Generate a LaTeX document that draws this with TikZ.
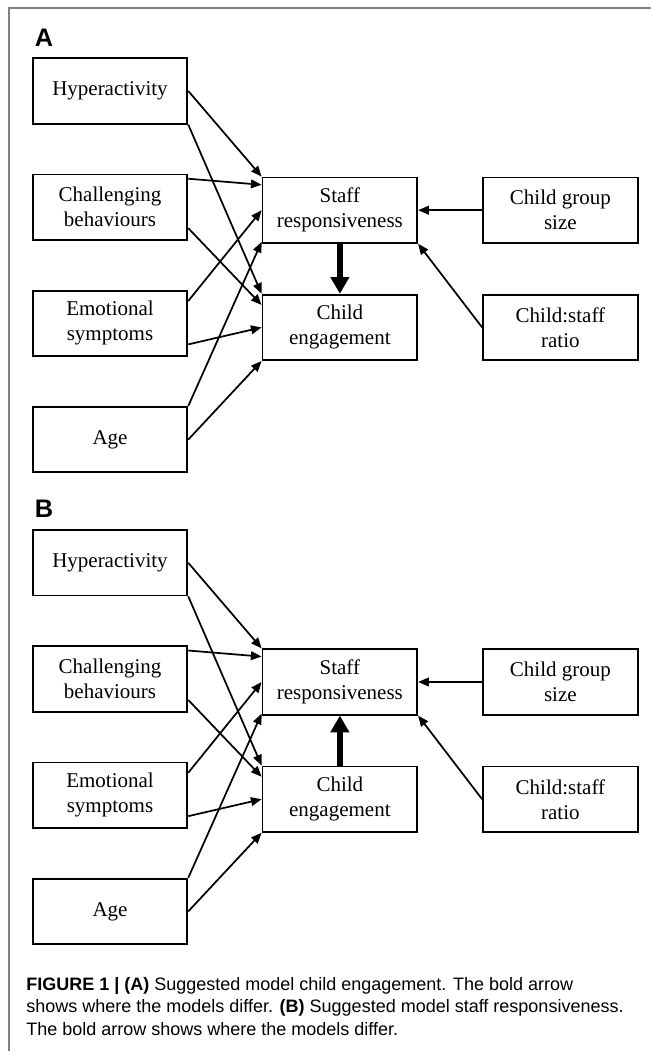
\documentclass[tikz,border=0pt]{standalone}
\usepackage{fontspec}
\setmainfont{Liberation Serif}
\newfontfamily\capfont{Liberation Sans}
\usetikzlibrary{positioning,arrows.meta}

\begin{document}
\begin{tikzpicture}[
        x=0.75pt, y=-0.75pt,
        node distance=36.75pt,
        box/.style={draw, line width=1.4pt, minimum width=116pt, minimum height=49pt, inner sep=0pt, align=center, font=\fontsize{15.75pt}{18.75pt}\selectfont},
        panel/.style={inner sep=0pt, font=\capfont\bfseries\fontsize{19pt}{20pt}\selectfont},
        caption/.style={inner sep=0pt, align=left, font=\capfont\fontsize{13.5pt}{16.9pt}\selectfont},
        arrow/.style={-{Triangle[length=8pt,width=6.5pt]}, line width=1.3pt},
        bold/.style={-{Triangle[length=12.5pt,width=13.5pt]}, line width=5pt},
        frame/.style={draw=black!50, line width=1.1pt}
    ]

    \useasboundingbox (0,0) rectangle (651,1051);
    \draw[frame] (651,8) -| (9,1051);

    % Panel A
    \node[box] (hypA) at (110,91) {Hyperactivity};
    \node[box, below=of hypA] (chalA) {Challenging\\behaviours};
    \node[box, below=of chalA] (emoA) {Emotional\\symptoms};
    \node[box, below=of emoA] (ageA) {Age};
    \node[panel, above right=8.25pt and 2.25pt of hypA.north west] (labA) {A};

    \node[box, right=55pt of chalA, yshift=-2.25pt] (staffA) {Staff\\responsiveness};
    \node[box, below=37.5pt of staffA] (childA) {Child\\engagement};
    \node[box, right=48pt of staffA] (groupA) {Child group\\size};
    \node[box, right=48pt of childA] (ratioA) {Child:staff\\ratio};

    \draw[arrow] (hypA.east) -- (staffA.north west);
    \draw[arrow] (hypA.south east) -- (childA.north west);
    \draw[arrow] (chalA.20) -- (staffA.162);
    \draw[arrow] (chalA.-15) -- (childA.164);
    \draw[arrow] (emoA.16) -- (staffA.west);
    \draw[arrow] (emoA.-15) -- (childA.west);
    \draw[arrow] (ageA.north east) -- (staffA.202);
    \draw[arrow] (ageA.east) -- (childA.south west);
    \draw[arrow] (groupA.west) -- (staffA.east);
    \draw[arrow] (ratioA.west) -- (staffA.south east);
    \draw[bold] (staffA.south) -- (childA.north);

    % Panel B
    \node[box, below=42pt of ageA] (hypB) {Hyperactivity};
    \node[box, below=of hypB] (chalB) {Challenging\\behaviours};
    \node[box, below=of chalB] (emoB) {Emotional\\symptoms};
    \node[box, below=of emoB] (ageB) {Age};
    \node[panel, above right=8.25pt and 2.25pt of hypB.north west] (labB) {B};

    \node[box, right=55pt of chalB, yshift=-2.25pt] (staffB) {Staff\\responsiveness};
    \node[box, below=37.5pt of staffB] (childB) {Child\\engagement};
    \node[box, right=48pt of staffB] (groupB) {Child group\\size};
    \node[box, right=48pt of childB] (ratioB) {Child:staff\\ratio};

    \draw[arrow] (hypB.east) -- (staffB.north west);
    \draw[arrow] (hypB.south east) -- (childB.north west);
    \draw[arrow] (chalB.20) -- (staffB.162);
    \draw[arrow] (chalB.-15) -- (childB.164);
    \draw[arrow] (emoB.16) -- (staffB.west);
    \draw[arrow] (emoB.-15) -- (childB.west);
    \draw[arrow] (ageB.north east) -- (staffB.202);
    \draw[arrow] (ageB.east) -- (childB.south west);
    \draw[arrow] (groupB.west) -- (staffB.east);
    \draw[arrow] (ratioB.west) -- (staffB.south east);
    \draw[bold] (childB.north) -- (staffB.south);

    % Caption
    \node[caption, anchor=north west] (cap) at (26,977) {\textbf{FIGURE 1 | (A)} Suggested model child engagement. The bold arrow\\
        shows where the models differ. \textbf{(B)} Suggested model staff responsiveness.\\
        The bold arrow shows where the models differ.};

\end{tikzpicture}
\end{document}
